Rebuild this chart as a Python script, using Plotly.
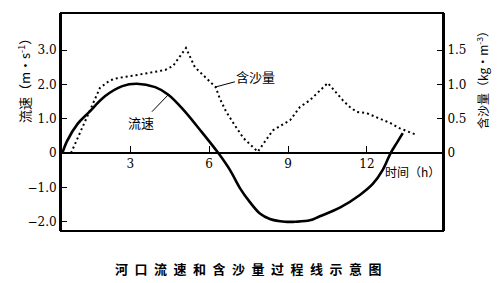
import plotly.graph_objects as go

# Flow velocity (m/s) vs time (h)
vel_t = [0.42, 0.6, 1.0, 1.41, 2.05, 2.7, 3.25, 3.95, 4.45, 5.0, 5.65, 6.35, 6.79, 7.17, 7.55, 7.93, 8.31, 8.88, 9.3, 9.83, 10.21, 10.97, 11.73, 12.22, 12.6, 12.9, 13.13, 13.36]
vel_v = [0.0, 0.35, 0.85, 1.17, 1.66, 1.95, 2.02, 1.92, 1.7, 1.28, 0.68, 0.0, -0.49, -1.02, -1.43, -1.76, -1.92, -2.0, -2.0, -1.96, -1.84, -1.59, -1.22, -0.9, -0.49, 0.0, 0.29, 0.58]

# Sediment concentration (kg/m3) vs time (h)
sed_t = [0.75, 1.09, 1.48, 1.85, 2.23, 2.5, 3.3, 4.33, 4.63, 5.12, 5.46, 5.84, 6.25, 6.4, 6.65, 6.95, 7.3, 7.85, 8.42, 9.08, 9.45, 9.83, 10.51, 11.08, 11.35, 11.61, 12.0, 12.37, 12.87, 13.25, 13.85]
sed_c = [0.0, 0.29, 0.63, 0.95, 1.06, 1.09, 1.14, 1.21, 1.27, 1.53, 1.25, 1.11, 0.96, 0.8, 0.6, 0.42, 0.22, 0.02, 0.33, 0.48, 0.67, 0.77, 1.02, 0.77, 0.67, 0.6, 0.58, 0.52, 0.44, 0.36, 0.27]

x_ticks = [3, 6, 9, 12]
y_ticks = [-2, -1, 0, 1, 2, 3]
y_ticktext = ["−2.0", "−1.0", "0", "1.0", "2.0", "3.0"]
y2_ticks = [0, 0.5, 1.0, 1.5]
y2_ticktext = ["0", "0.5", "1.0", "1.5"]

ylo, yhi = -2.27, 4.08
xlo, xhi = 0.37, 14.89
zero_pos = -ylo / (yhi - ylo)

serif = "DejaVu Serif"
cjk = "Noto Sans CJK SC"

fig = go.Figure()
fig.add_trace(go.Scatter(x=vel_t, y=vel_v, mode="lines", yaxis="y",
                         line=dict(color="black", width=2.6, shape="spline", smoothing=1.0),
                         showlegend=False, hoverinfo="skip"))
fig.add_trace(go.Scatter(x=sed_t, y=sed_c, mode="lines", yaxis="y2",
                         line=dict(color="black", width=2, dash="2px,3px"),
                         showlegend=False, hoverinfo="skip"))

fig.update_layout(
    width=500, height=283,
    margin=dict(l=61, r=57, t=13, b=52),
    paper_bgcolor="white", plot_bgcolor="white",
    xaxis=dict(range=[xlo, xhi], tickvals=x_ticks, ticks="inside", ticklen=6,
               tickcolor="black", tickwidth=1, showline=True, linecolor="black", linewidth=1.5,
               anchor="free", position=zero_pos, showgrid=False, zeroline=False,
               tickfont=dict(family=serif, size=12, color="black")),
    yaxis=dict(range=[ylo, yhi], tickvals=y_ticks, ticktext=y_ticktext, ticks="inside",
               ticklen=6, tickcolor="black", showline=True, linecolor="black", linewidth=2,
               showgrid=False, zeroline=False,
               tickfont=dict(family=serif, size=12, color="black")),
    yaxis2=dict(range=[ylo / 2, yhi / 2], tickvals=y2_ticks, ticktext=y2_ticktext,
                overlaying="y", side="right", ticks="inside", ticklen=6, tickcolor="black",
                showline=True, linecolor="black", linewidth=2, showgrid=False, zeroline=False,
                tickfont=dict(family=serif, size=12, color="black")),
    shapes=[dict(type="rect", xref="paper", yref="paper", x0=0, x1=1, y0=0, y1=1,
                 line=dict(color="black", width=2))],
)

fig.add_annotation(text="流速（m·s<sup>-1</sup>）", textangle=-90, xref="paper", yref="paper",
                   x=-0.097, y=0.706, xanchor="center", yanchor="middle", showarrow=False,
                   font=dict(family=cjk, size=13, color="black"))
fig.add_annotation(text="含沙量（kg·m<sup>-3</sup>）", textangle=-90, xref="paper", yref="paper",
                   x=1.102, y=0.706, xanchor="center", yanchor="middle", showarrow=False,
                   font=dict(family=cjk, size=12, color="black"))
fig.add_annotation(text="<b>" + "\u2002".join("河口流速和含沙量过程线示意图") + "</b>",
                   xref="paper", yref="paper", x=0.492, y=-0.17, xanchor="center",
                   yanchor="middle", showarrow=False,
                   font=dict(family=cjk, size=13, color="black"))
fig.add_annotation(text="时间（h）", xref="paper", yref="paper", x=0.919, y=0.271,
                   xanchor="center", yanchor="middle", showarrow=False,
                   font=dict(family=cjk, size=12, color="black"))
fig.add_annotation(text="流速", xref="x", yref="y", x=4.45, y=1.7, ax=-27, ay=28,
                   showarrow=True, arrowhead=0, arrowwidth=1, arrowcolor="black",
                   font=dict(family=cjk, size=13, color="black"))
fig.add_annotation(text="含沙量", xref="x", yref="y2", x=6.22, y=0.96, ax=41, ay=-11,
                   showarrow=True, arrowhead=0, arrowwidth=1, arrowcolor="black",
                   font=dict(family=cjk, size=13, color="black"))

fig.write_html("out.html")
